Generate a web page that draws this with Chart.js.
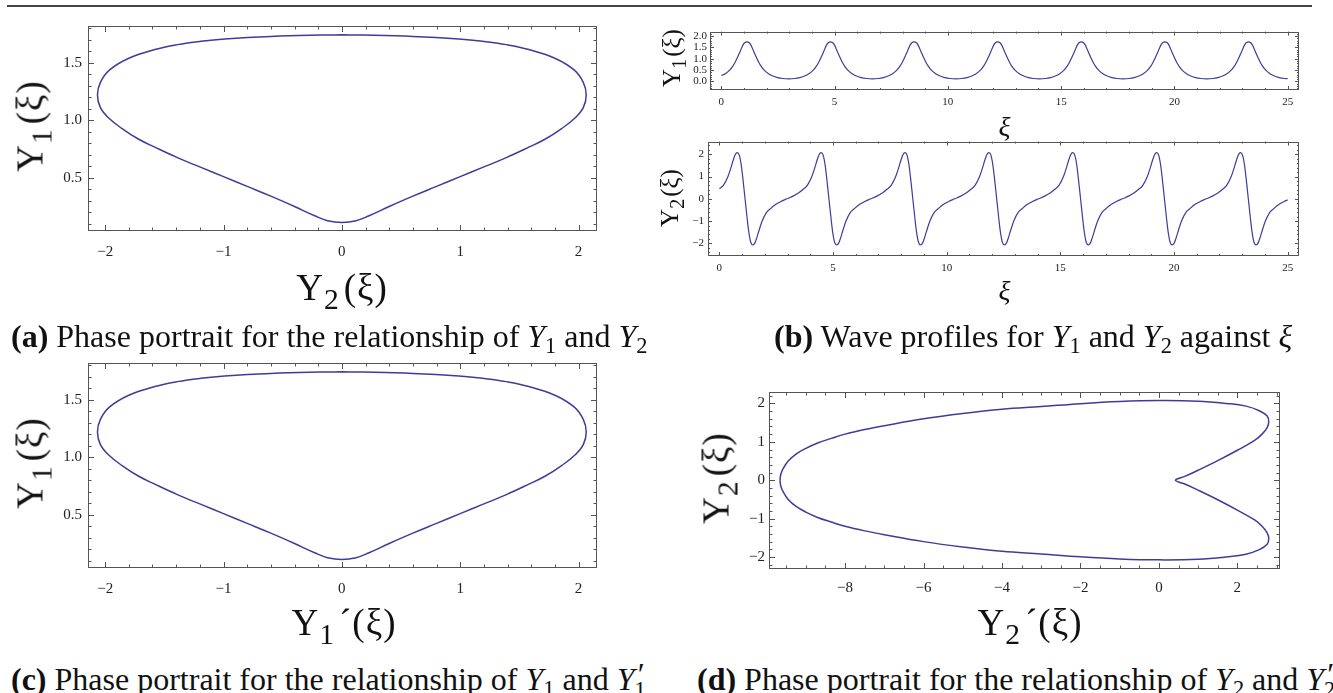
<!DOCTYPE html>
<html lang="en">
<head>
  <meta charset="UTF-8" />
  <title>Phase portraits and wave profiles</title>
  <script src="https://cdn.jsdelivr.net/npm/chart.js"></script>
  <style>
    body {
      margin: 0;
      width: 1333px;
      height: 693px;
      overflow: hidden;
      background: #fff;
      position: relative;
      font-family: 'Liberation Serif', 'Times New Roman', serif;
      color: #111;
    }
    canvas { position: absolute; }
    .rule { position: absolute; left: 7px; top: 5px; width: 1305px; height: 2px; background: #444; }
    .ax {
      position: absolute;
      font-size: 37px;
      line-height: 1;
      white-space: nowrap;
      letter-spacing: 1px;
      transform: translate(-50%, -50%);
      color: #111;
    }
    .ax.rot { transform: translate(-50%, -50%) rotate(-90deg); }
    .ax sub { font-size: 0.8em; vertical-align: -0.3em; line-height: 0; margin-right: 4px; }
    .small { font-size: 25px; letter-spacing: 0; }
    .small sub { margin-right: 2px; }
    .xi { font-size: 28px; font-style: italic; }
    .cap {
      position: absolute;
      font-size: 32px;
      line-height: 1;
      white-space: nowrap;
    }
    .cap sub { font-size: 0.7em; vertical-align: -0.25em; line-height: 0; }
    .stk { display: inline-block; position: relative; width: 0.45em; height: 1em; }
    .stk .p { position: absolute; left: 0.1em; top: 0; }
    .stk .s { position: absolute; left: 0; top: 1.45em; font-size: 0.7em; line-height: 0; }
  </style>
</head>
<body>
  <div class="rule"></div>

  <canvas id="chartA"></canvas>
  <canvas id="chartB1"></canvas>
  <canvas id="chartB2"></canvas>
  <canvas id="chartC"></canvas>
  <canvas id="chartD"></canvas>

  <!-- axis titles -->
  <div class="ax rot" style="left:30px;top:126px">Y<sub>1</sub>(ξ)</div>
  <div class="ax" style="left:342px;top:287px">Y<sub>2</sub>(ξ)</div>

  <div class="ax rot small" style="left:671px;top:58px">Y<sub>1</sub>(ξ)</div>
  <div class="ax xi" style="left:1005px;top:127px">ξ</div>
  <div class="ax rot small" style="left:669px;top:198px">Y<sub>2</sub>(ξ)</div>
  <div class="ax xi" style="left:1005px;top:291px">ξ</div>

  <div class="ax rot" style="left:30px;top:463px">Y<sub>1</sub>(ξ)</div>
  <div class="ax" style="left:344px;top:622px">Y<sub>1</sub>´(ξ)</div>

  <div class="ax rot" style="left:716px;top:478px">Y<sub>2</sub>(ξ)</div>
  <div class="ax" style="left:1030px;top:622px">Y<sub>2</sub>´(ξ)</div>

  <!-- captions -->
  <div class="cap" style="left:11px;top:320px"><b>(a)</b> Phase portrait for the relationship of <i>Y</i><sub>1</sub> and <i>Y</i><sub>2</sub></div>
  <div class="cap" style="left:774px;top:320px"><b>(b)</b> Wave profiles for <i>Y</i><sub>1</sub> and <i>Y</i><sub>2</sub> against <i>ξ</i></div>
  <div class="cap" style="left:11px;top:658px"><b>(c)</b> Phase portrait for the relationship of <i>Y</i><sub>1</sub> and <i>Y</i><span class="stk"><span class="p">′</span><span class="s">1</span></span></div>
  <div class="cap" style="left:697px;top:658px"><b>(d)</b> Phase portrait for the relationship of <i>Y</i><sub>2</sub> and <i>Y</i><span class="stk"><span class="p">′</span><span class="s">2</span></span></div>

  <script>
    // closed orbit, panels (a) and (c): Y2 (= Y1') across, Y1 up
    const portraitX = [0, -0.18, -0.6, -0.99, -1.19, -1.39, -1.58, -1.80, -1.96, -2.04, -2.065,
      -2.04, -1.97, -1.86, -1.72, -1.58, -1.39, -1.19, -1.0, -0.8, -0.6, -0.4, -0.23, -0.12,
      0,
      0.12, 0.23, 0.4, 0.6, 0.8, 1.0, 1.19, 1.39, 1.58, 1.72, 1.86, 1.97, 2.04,
      2.065, 2.04, 1.96, 1.80, 1.58, 1.39, 1.19, 0.99, 0.6, 0.18, 0]
    const portraitY = [1.743, 1.741, 1.729, 1.707, 1.687, 1.658, 1.616, 1.54, 1.44, 1.33, 1.22,
      1.11, 1.02, 0.93, 0.837, 0.766, 0.675, 0.59, 0.51, 0.425, 0.34, 0.25, 0.17, 0.127,
      0.112,
      0.127, 0.17, 0.25, 0.34, 0.425, 0.51, 0.59, 0.675, 0.766, 0.837, 0.93, 1.02, 1.11,
      1.22, 1.33, 1.44, 1.54, 1.616, 1.658, 1.687, 1.707, 1.729, 1.741, 1.743]

    // panel (b): wave profiles against xi
    const xi = [
      0, 0.178, 0.378, 0.507, 0.604, 0.695, 0.785, 0.88, 0.965, 1.03, 1.13, 1.23, 1.295, 1.38, 1.475, 1.565, 1.656, 1.753, 1.882, 2.082, 2.25, 2.486, 2.71,
      2.975, 3.24, 3.464, 3.70, 3.868, 4.068, 4.197, 4.294, 4.385, 4.475, 4.57, 4.655, 4.72, 4.82, 4.92, 4.985, 5.07, 5.165, 5.255, 5.346, 5.443, 5.572, 5.772, 5.94, 6.176, 6.40,
      6.665, 6.93, 7.154, 7.39, 7.558, 7.758, 7.887, 7.984, 8.075, 8.165, 8.26, 8.345, 8.41, 8.51, 8.61, 8.675, 8.76, 8.855, 8.945, 9.036, 9.133, 9.262, 9.462, 9.63, 9.866, 10.09,
      10.355, 10.62, 10.844, 11.08, 11.248, 11.448, 11.577, 11.674, 11.765, 11.855, 11.95, 12.035, 12.10, 12.20, 12.30, 12.365, 12.45, 12.545, 12.635, 12.726, 12.823, 12.952, 13.152, 13.32, 13.556, 13.78,
      14.045, 14.31, 14.534, 14.77, 14.938, 15.138, 15.267, 15.364, 15.455, 15.545, 15.64, 15.725, 15.79, 15.89, 15.99, 16.055, 16.14, 16.235, 16.325, 16.416, 16.513, 16.642, 16.842, 17.01, 17.246, 17.47,
      17.735, 18.0, 18.224, 18.46, 18.628, 18.828, 18.957, 19.054, 19.145, 19.235, 19.33, 19.415, 19.48, 19.58, 19.68, 19.745, 19.83, 19.925, 20.015, 20.106, 20.203, 20.332, 20.532, 20.70, 20.936, 21.16,
      21.425, 21.69, 21.914, 22.15, 22.318, 22.518, 22.647, 22.744, 22.835, 22.925, 23.02, 23.105, 23.17, 23.27, 23.37, 23.435, 23.52, 23.615, 23.705, 23.796, 23.893, 24.022, 24.222, 24.39, 24.626, 24.85,
      25]
    const waveY1 = [
      0.26, 0.34, 0.51, 0.675, 0.837, 1.021, 1.22, 1.446, 1.625, 1.707, 1.745, 1.707, 1.625, 1.446, 1.22, 1.021, 0.837, 0.675, 0.51, 0.34, 0.25, 0.17, 0.127,
      0.112, 0.127, 0.17, 0.25, 0.34, 0.51, 0.675, 0.837, 1.021, 1.22, 1.446, 1.625, 1.707, 1.745, 1.707, 1.625, 1.446, 1.22, 1.021, 0.837, 0.675, 0.51, 0.34, 0.25, 0.17, 0.127,
      0.112, 0.127, 0.17, 0.25, 0.34, 0.51, 0.675, 0.837, 1.021, 1.22, 1.446, 1.625, 1.707, 1.745, 1.707, 1.625, 1.446, 1.22, 1.021, 0.837, 0.675, 0.51, 0.34, 0.25, 0.17, 0.127,
      0.112, 0.127, 0.17, 0.25, 0.34, 0.51, 0.675, 0.837, 1.021, 1.22, 1.446, 1.625, 1.707, 1.745, 1.707, 1.625, 1.446, 1.22, 1.021, 0.837, 0.675, 0.51, 0.34, 0.25, 0.17, 0.127,
      0.112, 0.127, 0.17, 0.25, 0.34, 0.51, 0.675, 0.837, 1.021, 1.22, 1.446, 1.625, 1.707, 1.745, 1.707, 1.625, 1.446, 1.22, 1.021, 0.837, 0.675, 0.51, 0.34, 0.25, 0.17, 0.127,
      0.112, 0.127, 0.17, 0.25, 0.34, 0.51, 0.675, 0.837, 1.021, 1.22, 1.446, 1.625, 1.707, 1.745, 1.707, 1.625, 1.446, 1.22, 1.021, 0.837, 0.675, 0.51, 0.34, 0.25, 0.17, 0.127,
      0.112, 0.127, 0.17, 0.25, 0.34, 0.51, 0.675, 0.837, 1.021, 1.22, 1.446, 1.625, 1.707, 1.745, 1.707, 1.625, 1.446, 1.22, 1.021, 0.837, 0.675, 0.51, 0.34, 0.25, 0.17, 0.127,
      0.118]
    const waveY2 = [
      0.46, 0.6, 1.0, 1.39, 1.72, 1.98, 2.075, 1.95, 1.5, 0.95, 0, -0.95, -1.5, -1.95, -2.075, -1.98, -1.72, -1.39, -1.0, -0.6, -0.44, -0.25, -0.12,
      0, 0.12, 0.25, 0.44, 0.6, 1.0, 1.39, 1.72, 1.98, 2.075, 1.95, 1.5, 0.95, 0, -0.95, -1.5, -1.95, -2.075, -1.98, -1.72, -1.39, -1.0, -0.6, -0.44, -0.25, -0.12,
      0, 0.12, 0.25, 0.44, 0.6, 1.0, 1.39, 1.72, 1.98, 2.075, 1.95, 1.5, 0.95, 0, -0.95, -1.5, -1.95, -2.075, -1.98, -1.72, -1.39, -1.0, -0.6, -0.44, -0.25, -0.12,
      0, 0.12, 0.25, 0.44, 0.6, 1.0, 1.39, 1.72, 1.98, 2.075, 1.95, 1.5, 0.95, 0, -0.95, -1.5, -1.95, -2.075, -1.98, -1.72, -1.39, -1.0, -0.6, -0.44, -0.25, -0.12,
      0, 0.12, 0.25, 0.44, 0.6, 1.0, 1.39, 1.72, 1.98, 2.075, 1.95, 1.5, 0.95, 0, -0.95, -1.5, -1.95, -2.075, -1.98, -1.72, -1.39, -1.0, -0.6, -0.44, -0.25, -0.12,
      0, 0.12, 0.25, 0.44, 0.6, 1.0, 1.39, 1.72, 1.98, 2.075, 1.95, 1.5, 0.95, 0, -0.95, -1.5, -1.95, -2.075, -1.98, -1.72, -1.39, -1.0, -0.6, -0.44, -0.25, -0.12,
      0, 0.12, 0.25, 0.44, 0.6, 1.0, 1.39, 1.72, 1.98, 2.075, 1.95, 1.5, 0.95, 0, -0.95, -1.5, -1.95, -2.075, -1.98, -1.72, -1.39, -1.0, -0.6, -0.44, -0.25, -0.12,
      -0.05]

    // panel (d): Y2' across, Y2 up
    const orbitDX = [-9.66, -9.64, -9.58, -9.45, -9.25, -9.0, -8.7, -8.35, -8.0, -7.5, -7.0, -6.0, -5.0, -4.0, -3.0, -2.0, -1.0, 0,
      1.0, 1.72, 2.22, 2.56, 2.76, 2.8, 2.76, 2.63, 2.44, 2.0, 1.5, 1.0, 0.66, 0.5, 0.42,
      0.5, 0.66, 1.0, 1.5, 2.0, 2.44, 2.63, 2.76, 2.8, 2.76, 2.56, 2.22, 1.72, 1.0,
      0, -1.0, -2.0, -3.0, -4.0, -5.0, -6.0, -7.0, -7.5, -8.0, -8.35, -8.7, -9.0, -9.25, -9.45, -9.58, -9.64, -9.66]
    const orbitDY = [0, 0.15, 0.3, 0.5, 0.68, 0.83, 0.97, 1.09, 1.2, 1.32, 1.42, 1.6, 1.74, 1.85, 1.92, 1.995, 2.05, 2.075,
      2.06, 2.0, 1.93, 1.81, 1.67, 1.52, 1.37, 1.2, 1.035, 0.78, 0.51, 0.26, 0.1, 0.045, 0,
      -0.045, -0.1, -0.26, -0.51, -0.78, -1.035, -1.2, -1.37, -1.52, -1.67, -1.81, -1.93, -2.0, -2.06,
      -2.075, -2.05, -1.995, -1.92, -1.85, -1.74, -1.6, -1.42, -1.32, -1.2, -1.09, -0.97, -0.83, -0.68, -0.5, -0.3, -0.15, 0]

    // tick labels
    const ticksA_x = [-2, -1, 0, 1, 2]
    const ticksA_y = [0.5, 1.0, 1.5]
    const ticksB_x = [0, 5, 10, 15, 20, 25]
    const ticksB1_y = [0, 0.5, 1.0, 1.5, 2.0]
    const ticksB2_y = [-2, -1, 0, 1, 2]
    const ticksD_x = [-8, -6, -4, -2, 0, 2]
    const ticksD_y = [-2, -1, 0, 1, 2]

    const serif = '"Liberation Serif", "Times New Roman", serif'
    const lineBlue = 'rgb(61, 61, 153)'

    // Mathematica-like frame: box plus inward ticks on all four sides
    const frameTicks = {
      id: 'frameTicks',
      afterDraw(chart, args, o) {
        const { ctx, chartArea: a, scales: { x, y } } = chart
        ctx.save()
        ctx.strokeStyle = '#555'
        ctx.lineWidth = 1
        const seg = (x1, y1, x2, y2) => { ctx.beginPath(); ctx.moveTo(x1, y1); ctx.lineTo(x2, y2); ctx.stroke() }
        const marks = (scale, step) => {
          const out = scale.ticks.map(t => ({ v: t.value, len: o.major }))
          for (let i = Math.ceil(scale.min / step - 1e-9); i * step <= scale.max + 1e-9; i++) {
            const v = i * step
            if (!scale.ticks.some(t => Math.abs(t.value - v) < step / 10)) out.push({ v, len: o.minor })
          }
          return out
        }
        marks(x, o.xMinor).forEach(m => {
          const px = Math.round(x.getPixelForValue(m.v)) + 0.5
          seg(px, a.bottom, px, a.bottom - m.len)
          seg(px, a.top, px, a.top + m.len)
        })
        marks(y, o.yMinor).forEach(m => {
          const py = Math.round(y.getPixelForValue(m.v)) + 0.5
          seg(a.left, py, a.left + m.len, py)
          seg(a.right, py, a.right - m.len, py)
        })
        ctx.strokeRect(Math.round(a.left) + 0.5, Math.round(a.top) + 0.5, Math.round(a.width) - 1, Math.round(a.height) - 1)
        ctx.restore()
      }
    }

    const fmt = dec => v => (v < 0 ? '\u2212' : '') + Math.abs(v).toFixed(dec)

    function axis(a, size, isY, fs) {
      return {
        type: 'linear',
        min: a.min,
        max: a.max,
        afterBuildTicks: s => { s.ticks = a.ticks.map(v => ({ value: v })) },
        afterFit: s => { if (isY) s.width = size; else s.height = size },
        grid: { display: false, drawTicks: false },
        border: { display: false },
        ticks: {
          font: { family: serif, size: fs },
          color: '#222',
          padding: a.pad,
          autoSkip: false,
          maxRotation: 0,
          callback: fmt(a.dec)
        }
      }
    }

    // f = chart area [left, top, right, bottom] on the page, pad = [yAxis width, top, right, xAxis height]
    function makeChart(id, f, pad, xa, ya, fs, datasets, tk) {
      const cv = document.getElementById(id)
      cv.width = f[2] - f[0] + pad[0] + pad[2]
      cv.height = f[3] - f[1] + pad[1] + pad[3]
      cv.style.left = (f[0] - pad[0]) + 'px'
      cv.style.top = (f[1] - pad[1]) + 'px'
      return new Chart(cv, {
        type: 'scatter',
        data: { datasets },
        options: {
          responsive: false,
          animation: false,
          layout: { padding: { left: 0, top: pad[1], right: pad[2], bottom: 0 } },
          scales: { x: axis(xa, pad[3], false, fs), y: axis(ya, pad[0], true, fs) },
          plugins: { legend: { display: false }, tooltip: { enabled: false }, frameTicks: tk }
        },
        plugins: [frameTicks]
      })
    }

    const pts = (xs, ys) => xs.map((v, i) => ({ x: v, y: ys[i] }))
    const loopSet = (xs, ys) => ({
      data: pts(xs, ys), showLine: true, borderColor: lineBlue, borderWidth: 1.5,
      pointRadius: 0, tension: 0.4, fill: false
    })
    const waveSet = ys => ({
      data: pts(xi, ys), showLine: true, borderColor: lineBlue, borderWidth: 1.2,
      pointRadius: 0, cubicInterpolationMode: 'monotone', fill: false
    })

    const tickA = { xMinor: 0.2, yMinor: 0.1, major: 6, minor: 3.5 }

    makeChart('chartA', [88, 21, 597, 231], [88, 10, 10, 40],
      { min: -2.145, max: 2.156, ticks: ticksA_x, dec: 0, pad: 12 },
      { min: 0.037, max: 1.82, ticks: ticksA_y, dec: 1, pad: 6 },
      15, [loopSet(portraitX, portraitY)], tickA)

    makeChart('chartC', [88, 358, 597, 568], [88, 10, 10, 40],
      { min: -2.145, max: 2.156, ticks: ticksA_x, dec: 0, pad: 12 },
      { min: 0.037, max: 1.82, ticks: ticksA_y, dec: 1, pad: 6 },
      15, [loopSet(portraitX, portraitY)], tickA)

    makeChart('chartB1', [710, 30, 1299, 90], [50, 8, 12, 24],
      { min: -0.5, max: 25.5, ticks: ticksB_x, dec: 0, pad: 6 },
      { min: -0.38, max: 2.2, ticks: ticksB1_y, dec: 1, pad: 3 },
      11, [waveSet(waveY1)], { xMinor: 1, yMinor: 0.1, major: 4, minor: 2 })

    makeChart('chartB2', [708, 139, 1299, 256], [50, 8, 12, 24],
      { min: -0.5, max: 25.5, ticks: ticksB_x, dec: 0, pad: 6 },
      { min: -2.57, max: 2.57, ticks: ticksB2_y, dec: 0, pad: 4 },
      11, [waveSet(waveY2)], { xMinor: 1, yMinor: 0.2, major: 4, minor: 2 })

    makeChart('chartD', [769, 387, 1280, 569], [60, 8, 20, 36],
      { min: -9.94, max: 3.087, ticks: ticksD_x, dec: 0, pad: 10 },
      { min: -2.313, max: 2.298, ticks: ticksD_y, dec: 0, pad: 4 },
      15, [loopSet(orbitDX, orbitDY)], { xMinor: 0.5, yMinor: 0.2, major: 6, minor: 3.5 })
  </script>
</body>
</html>
